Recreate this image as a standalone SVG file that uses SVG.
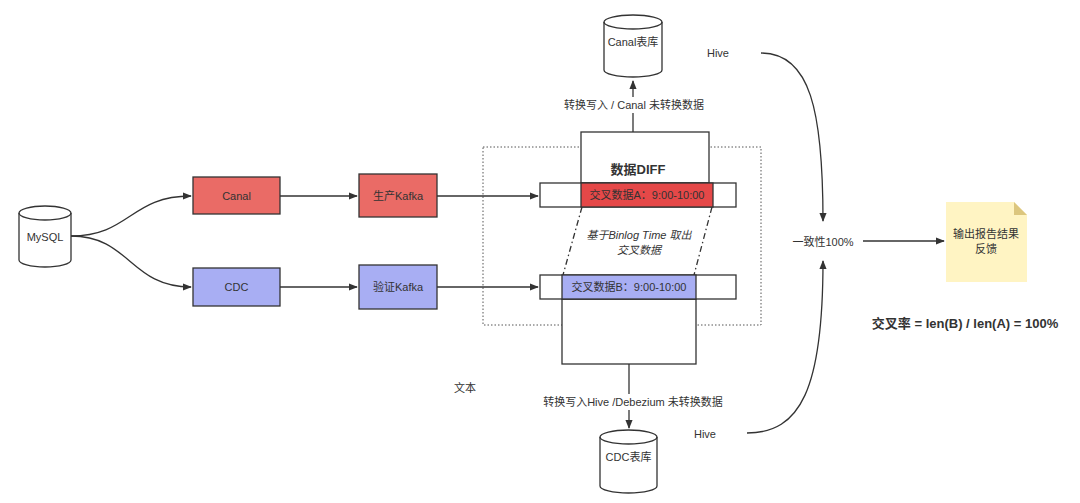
<svg xmlns="http://www.w3.org/2000/svg" width="1080" height="503" viewBox="0 0 1080 503">
<style>
text{font-family:"Liberation Sans","Noto Sans CJK SC",sans-serif;font-size:11px;fill:#333;text-anchor:middle;dominant-baseline:central}
.ln{fill:none;stroke:#333;stroke-width:1.3}
.bx{stroke:#333;stroke-width:1.3}
.cyl{fill:#fff;stroke:#333;stroke-width:1.3}
</style>
<defs>
<marker id="ar" viewBox="0 0 10 10" refX="9" refY="5" markerWidth="9" markerHeight="9" markerUnits="userSpaceOnUse" orient="auto"><path d="M0,1 L10,5 L0,9 Z" fill="#333"/></marker>
</defs>
<rect width="1080" height="503" fill="#fff"/>
<rect x="483" y="147" width="278" height="178" fill="none" stroke="#555" stroke-width="1" stroke-dasharray="1.5,2"/>
<g id="connectors">
<path class="ln" d="M71,236 C130,236 130,196 191,196" marker-end="url(#ar)"/>
<path class="ln" d="M71,236 C130,236 130,287 191,287" marker-end="url(#ar)"/>
<path class="ln" d="M280,196 L357,196" marker-end="url(#ar)"/>
<path class="ln" d="M280,287 L357,287" marker-end="url(#ar)"/>
<path class="ln" d="M437,196 L538,196" marker-end="url(#ar)"/>
<path class="ln" d="M437,287 L538,287" marker-end="url(#ar)"/>
<path class="ln" d="M633,132 L633,81" marker-end="url(#ar)"/>
<path class="ln" d="M629,364 L629,428" marker-end="url(#ar)"/>
<path class="ln" d="M582,207 L563,275" stroke-dasharray="6,3,1.5,3"/>
<path class="ln" d="M712,207 L694,275" stroke-dasharray="6,3,1.5,3"/>
<path class="ln" d="M761,53 C810,53 823,110 823,221" marker-end="url(#ar)"/>
<path class="ln" d="M747,433 C800,433 823,390 823,261" marker-end="url(#ar)"/>
<path class="ln" d="M863,241 L944,241" marker-end="url(#ar)"/>
</g>
<g id="mysql">
<path class="cyl" d="M19,213 L19,260 A26,7 0 0 0 71,260 L71,213 A26,7 0 0 0 19,213 Z"/>
<path class="ln" d="M19,213 A26,7 0 0 0 71,213"/>
<text x="45" y="237">MySQL</text>
</g>
<g id="canal"><rect class="bx" x="193" y="177" width="87" height="37" fill="#EA6B66"/><text x="236.5" y="196">Canal</text></g>
<g id="cdc"><rect class="bx" x="193" y="268" width="87" height="38" fill="#A8AEF3"/><text x="236.5" y="287">CDC</text></g>
<g id="kafka-prod"><rect class="bx" x="359" y="174" width="78" height="43" fill="#EA6B66"/><text x="398" y="196">生产Kafka</text></g>
<g id="kafka-verify"><rect class="bx" x="359" y="265" width="78" height="44" fill="#A8AEF3"/><text x="398" y="287">验证Kafka</text></g>
<g id="diff">
<rect class="bx" x="581" y="132" width="128" height="51" fill="#fff"/>
<text x="638" y="169" style="font-size:13px;font-weight:bold">数据DIFF</text>
</g>
<g id="row-a">
<rect class="bx" x="540" y="183" width="196" height="24" fill="#fff"/>
<rect class="bx" x="581" y="183" width="132" height="24" fill="#E54848"/>
<text x="647" y="195">交叉数据A：9:00-10:00</text>
</g>
<g id="row-b">
<rect class="bx" x="562" y="299" width="134" height="65" fill="#fff"/>
<rect class="bx" x="540" y="275" width="196" height="24" fill="#fff"/>
<rect class="bx" x="562" y="275" width="134" height="24" fill="#A8AEF3"/>
<text x="629" y="287">交叉数据B：9:00-10:00</text>
</g>
<g id="binlog-label">
<text x="639" y="235" style="font-style:italic">基于Binlog Time 取出</text>
<text x="639" y="250" style="font-style:italic">交叉数据</text>
</g>
<g id="canal-db">
<path class="cyl" d="M604,22 L604,70 A29,7 0 0 0 662,70 L662,22 A29,7 0 0 0 604,22 Z"/>
<path class="ln" d="M604,22 A29,7 0 0 0 662,22"/>
<text x="633" y="42">Canal表库</text>
</g>
<g id="cdc-db">
<path class="cyl" d="M600,437 L600,486 A28.5,7 0 0 0 657,486 L657,437 A28.5,7 0 0 0 600,437 Z"/>
<path class="ln" d="M600,437 A28.5,7 0 0 0 657,437"/>
<text x="628.5" y="457">CDC表库</text>
</g>
<rect x="560" y="97" width="148" height="16" fill="#fff"/>
<text x="634" y="105">转换写入 / Canal 未转换数据</text>
<rect x="540" y="394" width="186" height="16" fill="#fff"/>
<text x="633" y="402">转换写入Hive /Debezium 未转换数据</text>
<text x="465" y="388">文本</text>
<text x="718" y="53">Hive</text>
<text x="705" y="434">Hive</text>
<g id="consistency"><text x="823" y="242">一致性100%</text></g>
<g id="report">
<path d="M946,202 L1014,202 L1027,215 L1027,282 L946,282 Z" fill="#FFF4C3"/>
<path d="M1014,202 L1027,215 L1014,215 Z" fill="#DCC67E"/>
<text x="986" y="234">输出报告结果</text>
<text x="986" y="249">反馈</text>
</g>
<text x="965" y="323" style="font-size:13px;font-weight:bold">交叉率 = len(B) / len(A) = 100%</text>
</svg>
